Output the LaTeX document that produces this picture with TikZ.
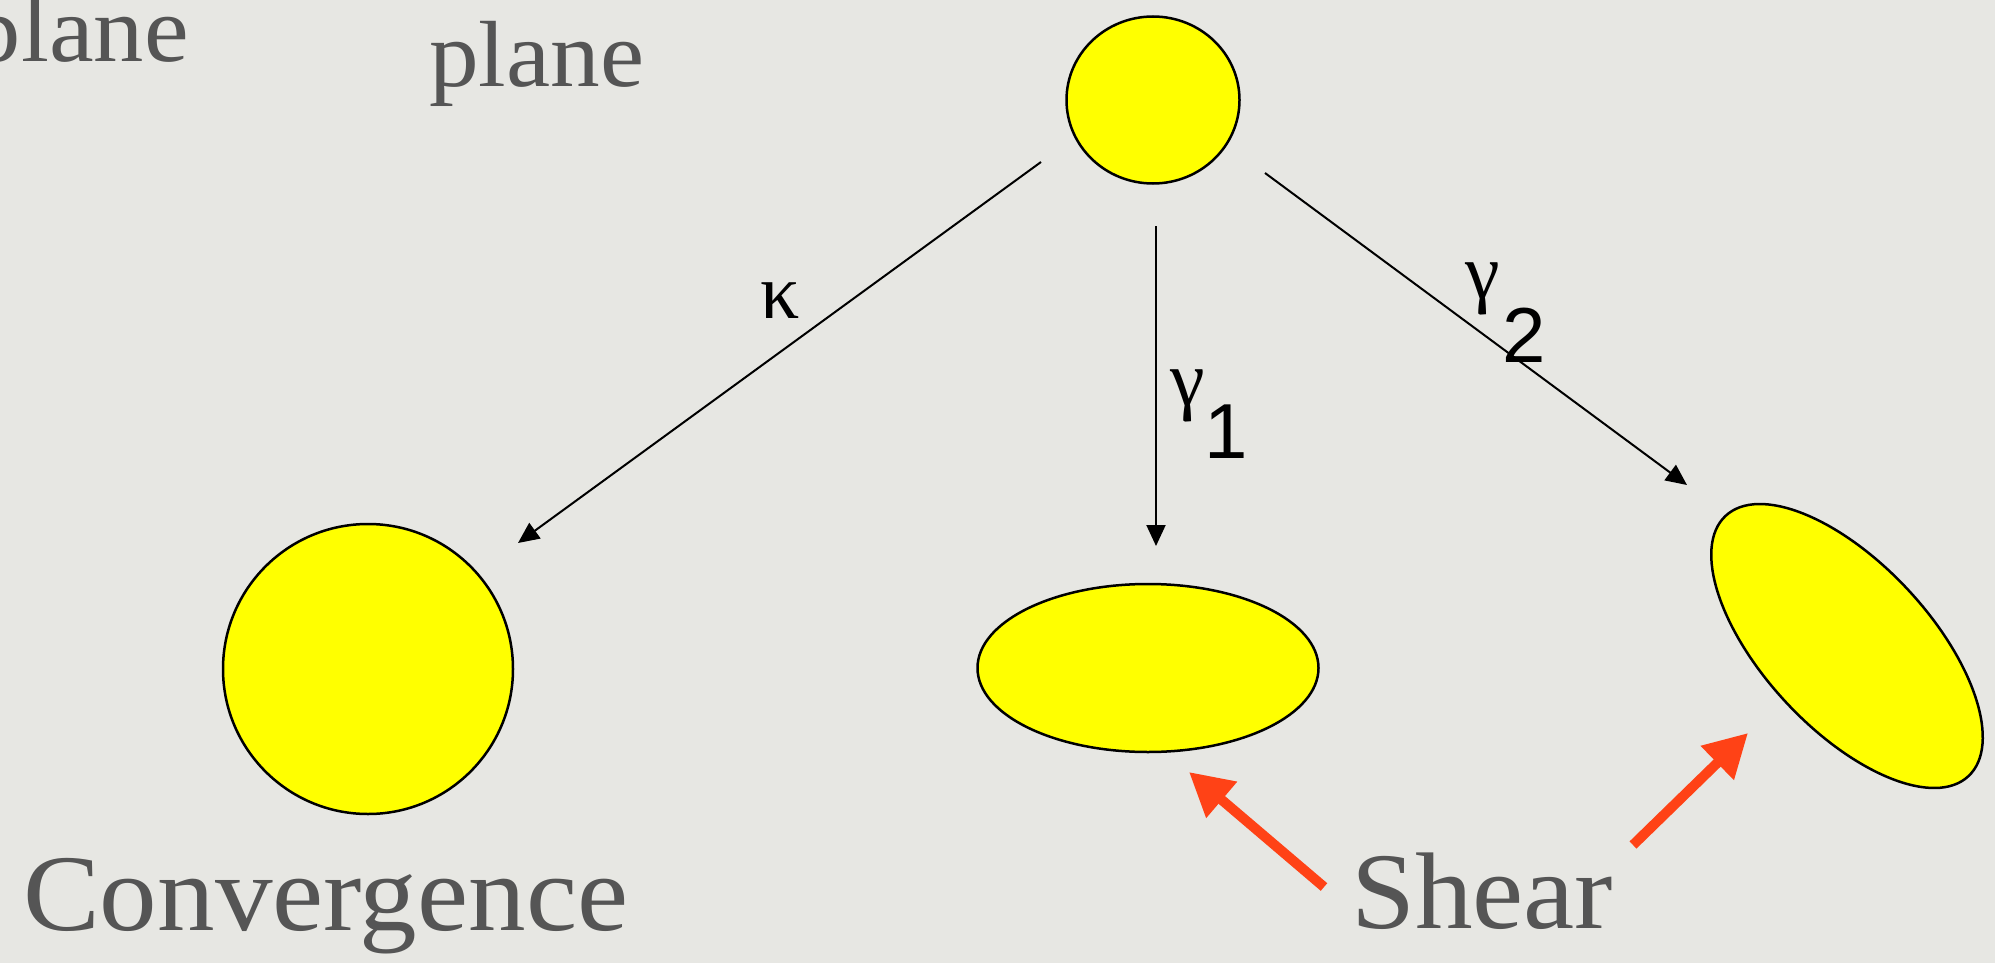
\documentclass[tikz,border=0pt]{standalone}
\usepackage{fontspec}
\usepackage{graphicx}
\setmainfont{Liberation Serif}
\newfontfamily\gk{Liberation Serif}
\newfontfamily\ar{Liberation Sans}
\usetikzlibrary{shapes.geometric,arrows.meta}
\definecolor{bg}{RGB}{231,231,227}
\definecolor{txtgray}{RGB}{85,85,85}
\definecolor{redorange}{RGB}{255,66,22}
\definecolor{blobyellow}{RGB}{255,255,0}
\tikzset{
  blob/.style={ellipse, draw=black, line width=2.5pt, fill=blobyellow, inner sep=0pt},
  lensarrow/.style={-{Triangle[length=21pt,width=19pt]}, line width=2pt, draw=black},
  ptr/.style={-{Triangle[length=43pt,width=45pt]}, line width=10pt, draw=redorange},
  bigtext/.style={inner sep=0pt, text=txtgray, font=\fontsize{109}{120}\selectfont},
  planetext/.style={inner sep=0pt, text=txtgray, font=\fontsize{94}{104}\selectfont},
  greek/.style={inner sep=0pt, text=black, font=\fontsize{78}{86}\selectfont}
}
\begin{document}
\begin{tikzpicture}[x=1pt,y=-1pt]
\useasboundingbox (0,0) rectangle (1995,963);
\fill[bg] (0,0) rectangle (1995,963);

% texts
\node[planetext, anchor=base east] (plane1) at (189,62) {\scalebox{1.07}[1]{plane}};
\node[planetext, anchor=base west] (plane2) at (429,87) {\scalebox{1.056}[1]{plane}};
\node[bigtext, anchor=base west] (conv) at (23,930) {\scalebox{1.056}[1]{Convergence}};
\node[bigtext, anchor=base west] (shear) at (1351,928) {\scalebox{1.056}[1]{Shear}};

% shapes
\node[blob, minimum width=173pt, minimum height=167pt] (src) at (1153,100) {};
\node[blob, minimum width=290pt, minimum height=290pt] (circ) at (368,669) {};
\node[blob, minimum width=341pt, minimum height=168pt] (ell1) at (1148,668) {};
\node[blob, minimum width=356pt, minimum height=166pt, rotate=-47] (ell2) at (1847,646) {};

% connector endpoints
\coordinate (k0) at (1041,162);
\coordinate (k1) at (518,543);
\coordinate (a0) at (1156,226);
\coordinate (a1) at (1156,546);
\coordinate (b0) at (1265,173);
\coordinate (b1) at (1687,485);
\coordinate (r0) at (1324,887);
\coordinate (r1) at (1189,772);
\coordinate (s0) at (1633,845);
\coordinate (s1) at (1748,733);

\draw[lensarrow] (k0) -- (k1);
\draw[lensarrow] (a0) -- (a1);
\draw[lensarrow] (b0) -- (b1);

\draw[ptr] (r0) -- (r1);
\draw[ptr] (s0) -- (s1);

% labels
\node[greek, anchor=base west] (kappa) at (760,318) {\gk κ};
\node[greek, anchor=base west] (gam1) at (1170,405) {\gk γ\raisebox{-53pt}{\ar 1}};
\node[greek, anchor=base west] (gam2) at (1465,298) {\gk γ\hspace{3pt}\raisebox{-64pt}{\ar 2}};
\end{tikzpicture}
\end{document}
